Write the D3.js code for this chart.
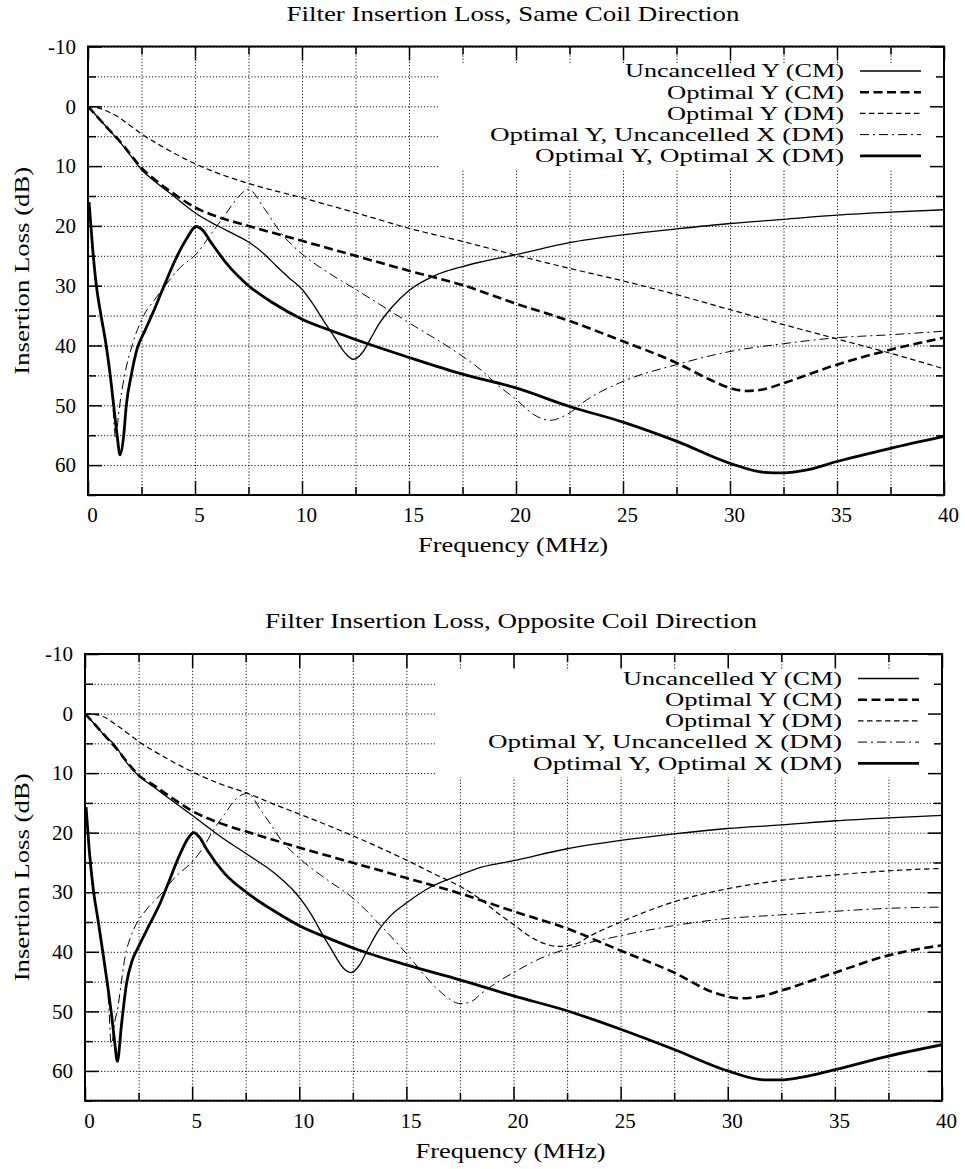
<!DOCTYPE html>
<html>
<head>
<meta charset="utf-8">
<script src="https://cdn.jsdelivr.net/npm/d3@7"></script>
<style>
  body { margin: 0; background: #fff; }
  svg { display: block; }
</style>
</head>
<body>
<svg id="chart" width="965" height="1169"></svg>
<script>
// ---- axis ticks ----
const freqMajorTicks = [0, 5, 10, 15, 20, 25, 30, 35, 40];
const freqMinorTicks = [2.5, 7.5, 12.5, 17.5, 22.5, 27.5, 32.5, 37.5];
const lossMajorTicks = [-10, 0, 10, 20, 30, 40, 50, 60];
const lossMinorTicks = [-5, 5, 15, 25, 35, 45, 55, 65];

const titleSame = "Filter Insertion Loss, Same Coil Direction";
const titleOpposite = "Filter Insertion Loss, Opposite Coil Direction";
const xLabel = "Frequency (MHz)";
const yLabel = "Insertion Loss (dB)";

const seriesNames = [
  "Uncancelled Y (CM)",
  "Optimal Y (CM)",
  "Optimal Y (DM)",
  "Optimal Y, Uncancelled X (DM)",
  "Optimal Y, Optimal X (DM)"
];

// ---- same coil direction: [frequency MHz, insertion loss dB] ----
const sameUncancelledYCM = [[0,0],[0.5,2],[1,4],[1.5,6],[2,8.3],[2.5,10.6],[3,12.2],[4,15],[5,17.8],[6,19.9],[7,21.7],[7.5,22.7],[8.2,24.6],[8.8,26.7],[9.4,28.7],[10,30.6],[10.5,33],[11,35.8],[11.5,38.5],[12,41.2],[12.4,42.3],[12.8,41.3],[13.2,38.9],[13.6,36.4],[14.2,33.6],[15,30.8],[16.2,28.3],[17.5,26.8],[18.4,26],[20,24.8],[22.5,22.8],[25,21.5],[27.5,20.5],[30,19.6],[32.5,18.9],[35,18.2],[37.5,17.7],[40,17.3]];
const sameOptimalYCM = [[0,0],[0.5,2],[1,4],[1.5,5.9],[2,8.1],[2.5,10.3],[3,11.9],[4,14.6],[5,16.9],[6,18.4],[7.5,20],[10,22.5],[12.5,25],[15,27.5],[17.5,29.9],[20,33],[22.5,35.9],[25,39.3],[27.5,42.9],[29,45.6],[30,47.1],[30.8,47.6],[31.6,47.3],[32.5,46.3],[35,43.2],[37.5,40.7],[40,38.7]];
const sameOptimalYDM = [[0,0],[0.5,0.3],[1,1],[1.5,2],[2,3.3],[2.5,4.6],[3.5,6.8],[5,9.6],[6,11.1],[7.5,12.9],[10,15.3],[12.5,17.8],[15,20.4],[17.5,22.6],[20,24.9],[22.5,27.1],[25,29.2],[27.5,31.5],[30,34],[32.5,36.5],[35,38.9],[37.5,41.3],[40,43.9]];
const sameUncancelledXDM = [[0.05,16],[0.2,23],[0.39,30],[0.6,34.8],[0.85,40],[1.04,45],[1.15,49.5],[1.28,55.3],[1.48,50],[1.71,45],[2.06,40],[2.6,35],[3.1,32.4],[3.6,30],[4.3,27],[5.06,24.7],[5.8,21.1],[6.4,18.2],[6.9,15.7],[7.5,13.9],[8.2,16.9],[9,21.1],[10,24.7],[11,27.3],[12.5,30.6],[15,36.2],[17.5,41.8],[18.4,44.2],[19.1,46.5],[20,49],[20.85,51.6],[21.6,52.5],[22.4,51.5],[23.3,49.1],[25,46],[27.5,43.2],[30,41],[32.5,39.7],[35,38.7],[37.5,38.2],[40,37.6]];
const sameOptimalXDM = [[0.05,16],[0.2,23],[0.39,30],[0.6,34.8],[0.85,40],[1.04,45],[1.2,50],[1.36,55],[1.5,58.3],[1.67,55],[1.79,50],[2.02,45],[2.3,40.5],[2.65,37.6],[3,34.8],[3.5,30.5],[4.13,25.3],[4.6,22.2],[5.05,20.1],[5.35,20.7],[5.7,22.5],[6.5,26.4],[7.5,30],[8.65,32.9],[10,35.6],[11.5,37.7],[12.5,39],[15,42],[17.5,44.8],[20,47.1],[22.5,50.2],[25,52.8],[27.5,56],[30,59.7],[31.6,61.2],[32.5,61.3],[33.6,60.8],[35,59.4],[37.5,57.2],[40,55.2]];

// ---- opposite coil direction ----
const oppUncancelledYCM = [[0,0],[0.5,2],[1,4],[1.32,5],[2,8.5],[2.55,10.6],[3.2,12.3],[3.83,14],[5.08,17.3],[6.3,20.6],[7.6,23.7],[8.85,26.8],[9.8,30],[10.3,32.3],[10.7,34.6],[11.1,37.2],[11.5,39.6],[12.1,42.9],[12.4,43.5],[12.8,42.3],[13.2,39.6],[13.7,36.4],[14.3,33.8],[15,31.8],[16.2,29],[17.5,27.1],[18.5,25.8],[20,24.7],[22.5,22.7],[25,21.3],[27.5,20.2],[30,19.3],[32.5,18.7],[35,18],[37.5,17.5],[40,17.1]];
const oppOptimalYCM = [[0,0],[0.5,2],[1,4],[1.5,6],[2,8.3],[2.55,10.5],[3.2,12],[3.83,13.6],[5.08,16.5],[6.3,18.4],[7.6,19.9],[10.1,22.6],[12.55,25.1],[15,27.6],[17.5,30.2],[20,33.2],[22.5,36.1],[25,39.8],[27.5,43.5],[29.4,46.9],[30.6,47.8],[31.5,47.5],[32.5,46.5],[35,43.5],[37.5,40.6],[40,38.9]];
const oppOptimalYDM = [[0,0],[0.7,0.3],[1.5,2],[2.55,4.8],[3.8,7.5],[5.08,9.9],[6.3,11.8],[7.6,13.4],[8.8,15.2],[10.1,17],[12.55,20.6],[15,24.6],[16.4,27.1],[17.5,29],[18.5,31.3],[19.3,33.6],[20,35.4],[20.8,37.5],[21.5,38.7],[22.1,39.1],[22.9,38.7],[23.6,37.3],[25,35],[27.5,31.6],[30,29.4],[32.5,28],[35,27.1],[37.5,26.4],[40,26]];
const oppUncancelledXDM = [[0.05,15.7],[0.2,23],[0.39,29.6],[0.6,34.5],[0.85,40.5],[1,44.5],[1.1,48.5],[1.23,55.9],[1.38,52],[1.54,49.2],[1.7,45],[1.87,40.8],[2.1,37.8],[2.33,35.8],[2.85,33],[3.5,30.5],[4.2,27.5],[5.08,24.6],[5.5,22.6],[6,19.5],[6.5,17],[7,14.5],[7.6,13.4],[8.2,16.2],[8.7,18.8],[9.15,21.2],[10.1,24.6],[11.3,27.9],[12.55,31.1],[13.7,35.2],[15,40.3],[16.35,45.9],[17,47.9],[17.5,48.7],[18,48.4],[18.5,47],[19.2,45.2],[20,43.5],[21.2,41.2],[22.5,39.5],[25,37.3],[27.5,35.6],[30,34.4],[32.5,33.8],[35,33.2],[37.5,32.7],[40,32.5]];
const oppOptimalXDM = [[0.05,15.7],[0.2,23],[0.39,29.6],[0.6,34.5],[0.85,40.5],[1.05,45.5],[1.25,50.9],[1.38,55],[1.51,58.4],[1.71,52],[1.94,45.3],[2.2,41.5],[2.49,39.2],[3,35.5],[3.5,31.9],[3.83,29],[4.46,23.4],[4.8,21],[5.08,20],[5.35,20.8],[5.7,22.9],[6.5,26.8],[7.6,30.2],[8.85,33.2],[10.1,35.8],[11.35,37.7],[12.55,39.4],[15,42.2],[17.5,44.7],[20,47.4],[22.5,49.9],[25,53],[27.5,56.4],[30,60],[31.7,61.5],[32.5,61.5],[33.4,61.1],[35,59.8],[37.5,57.5],[40,55.6]];

// ---- drawing ----
const FONT = "'Liberation Serif', 'Times New Roman', serif";
const lineStyles = [
  { width: 1.3, dash: null },
  { width: 2.6, dash: "9,4.5" },
  { width: 1.2, dash: "5.5,3.5" },
  { width: 1.0, dash: "9,4,2,4" },
  { width: 2.8, dash: null }
];
const legendTextWidths = [219, 177, 177, 354, 309];

const panels = [
  { title: titleSame, titleX: 513, titleY: 21, titleLen: 453,
    series: [sameUncancelledYCM, sameOptimalYCM, sameOptimalYDM, sameUncancelledXDM, sameOptimalXDM],
    left: 88, right: 944, top: 46.5, bottom: 495 },
  { title: titleOpposite, titleX: 511, titleY: 628, titleLen: 492,
    series: [oppUncancelledYCM, oppOptimalYCM, oppOptimalYDM, oppUncancelledXDM, oppOptimalXDM],
    left: 85, right: 942, top: 654, bottom: 1100.7 }
];

const svg = d3.select("#chart");
svg.append("rect").attr("width", 965).attr("height", 1169).attr("fill", "#fff");

panels.forEach((p, pi) => {
  const x = d3.scaleLinear().domain([0, 40]).range([p.left, p.right]);
  const y = d3.scaleLinear().domain([-10, 65]).range([p.top, p.bottom]);
  const w = p.right - p.left, h = p.bottom - p.top;
  const g = svg.append("g");

  // dotted grid
  const gx = g.append("g").attr("transform", `translate(0,${p.bottom})`)
    .call(d3.axisBottom(x).tickValues(freqMajorTicks.concat(freqMinorTicks)).tickSize(-h).tickFormat(""));
  const gy = g.append("g").attr("transform", `translate(${p.left},0)`)
    .call(d3.axisLeft(y).tickValues(lossMajorTicks.concat(lossMinorTicks)).tickSize(-w).tickFormat(""));
  [gx, gy].forEach(a => {
    a.select(".domain").remove();
    a.selectAll("line").attr("stroke", "#111").attr("stroke-width", 1).attr("stroke-dasharray", "1.2,2");
  });

  // key backdrop
  g.append("rect")
    .attr("x", p.left + 350).attr("y", p.top + 16.5)
    .attr("width", w - 350).attr("height", 106.5)
    .attr("fill", "#fff");

  // tick marks on all four sides, pointing inwards
  const tickSets = [
    [d3.axisBottom(x), freqMajorTicks, 14, `translate(0,${p.bottom})`],
    [d3.axisBottom(x), freqMinorTicks, 8, `translate(0,${p.bottom})`],
    [d3.axisTop(x), freqMajorTicks, 14, `translate(0,${p.top})`],
    [d3.axisTop(x), freqMinorTicks, 8, `translate(0,${p.top})`],
    [d3.axisLeft(y), lossMajorTicks, 14, `translate(${p.left},0)`],
    [d3.axisLeft(y), lossMinorTicks, 8, `translate(${p.left},0)`],
    [d3.axisRight(y), lossMajorTicks, 14, `translate(${p.right},0)`],
    [d3.axisRight(y), lossMinorTicks, 8, `translate(${p.right},0)`]
  ];
  tickSets.forEach(([ax, vals, len, tr]) => {
    const a = g.append("g").attr("transform", tr)
      .call(ax.tickValues(vals).tickSize(-len).tickFormat(""));
    a.select(".domain").remove();
    a.selectAll("line").attr("stroke", "#000").attr("stroke-width", 1.5);
  });

  // frame
  g.append("rect")
    .attr("x", p.left).attr("y", p.top).attr("width", w).attr("height", h)
    .attr("fill", "none").attr("stroke", "#000").attr("stroke-width", 2);

  // tick labels
  const lx = g.append("g").attr("transform", `translate(0,${p.bottom})`)
    .call(d3.axisBottom(x).tickValues(freqMajorTicks).tickSize(0).tickPadding(12).tickFormat(d => String(d)));
  const ly = g.append("g").attr("transform", `translate(${p.left},0)`)
    .call(d3.axisLeft(y).tickValues(lossMajorTicks).tickSize(0).tickPadding(12).tickFormat(d => String(d)));
  [lx, ly].forEach(a => {
    a.select(".domain").remove();
    a.selectAll("text").attr("font-family", FONT).attr("font-size", 21).attr("fill", "#000");
  });
  lx.selectAll("text").attr("dx", 4);

  // titles and axis labels
  g.append("text")
    .attr("x", p.titleX).attr("y", p.titleY)
    .attr("text-anchor", "middle")
    .attr("font-family", FONT).attr("font-size", 21)
    .attr("textLength", p.titleLen).attr("lengthAdjust", "spacingAndGlyphs")
    .text(p.title);
  g.append("text")
    .attr("x", (p.left + p.right) / 2 - 3).attr("y", p.bottom + 57)
    .attr("text-anchor", "middle")
    .attr("font-family", FONT).attr("font-size", 21)
    .attr("textLength", 190).attr("lengthAdjust", "spacingAndGlyphs")
    .text(xLabel);
  g.append("text")
    .attr("transform", `translate(22,${(p.top + p.bottom) / 2}) rotate(-90)`)
    .attr("text-anchor", "middle").attr("dominant-baseline", "central")
    .attr("font-family", FONT).attr("font-size", 21)
    .attr("textLength", 208).attr("lengthAdjust", "spacingAndGlyphs")
    .text(yLabel);

  // curves
  const clipId = "plotclip" + pi;
  svg.append("clipPath").attr("id", clipId)
    .append("rect").attr("x", p.left).attr("y", p.top).attr("width", w).attr("height", h);
  const line = d3.line().x(d => x(d[0])).y(d => y(d[1])).curve(d3.curveMonotoneX);
  const curves = g.append("g").attr("clip-path", `url(#${clipId})`);
  p.series.forEach((s, i) => {
    curves.append("path")
      .attr("d", line(s))
      .attr("fill", "none").attr("stroke", "#000")
      .attr("stroke-width", lineStyles[i].width)
      .attr("stroke-dasharray", lineStyles[i].dash)
      .attr("stroke-linejoin", "round");
  });

  // key
  seriesNames.forEach((name, i) => {
    const ky = p.top + 24.5 + 21.2 * i;
    g.append("text")
      .attr("x", p.right - 100).attr("y", ky).attr("dy", "0.35em")
      .attr("text-anchor", "end")
      .attr("font-family", FONT).attr("font-size", 18)
      .attr("textLength", legendTextWidths[i]).attr("lengthAdjust", "spacingAndGlyphs")
      .text(name);
    g.append("line")
      .attr("x1", p.right - 84).attr("x2", p.right - 23)
      .attr("y1", ky).attr("y2", ky)
      .attr("stroke", "#000")
      .attr("stroke-width", lineStyles[i].width)
      .attr("stroke-dasharray", lineStyles[i].dash);
  });
});
</script>
</body>
</html>
